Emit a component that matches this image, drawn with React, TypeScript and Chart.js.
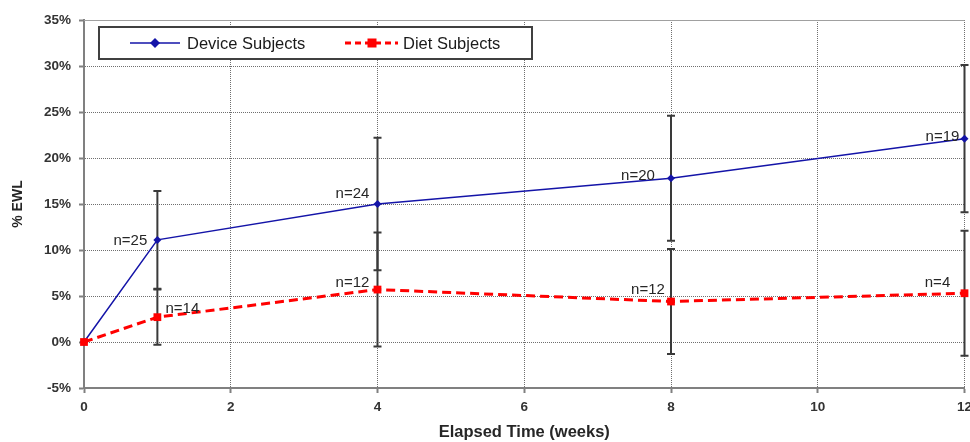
import React, { useEffect, useRef } from 'react';
import { Chart, registerables } from 'chart.js';

Chart.register(...registerables);

// ---- data ----
const weeks = [0, 1, 4, 8, 12];
const deviceEWL = [0, 11.1, 15.0, 17.8, 22.1];
const deviceErr = [0, 5.3, 7.2, 6.8, 8.0];
const dietEWL = [0, 2.7, 5.7, 4.4, 5.3];
const dietErr = [0, 3.0, 6.2, 5.7, 6.8];
const deviceN = ['', 'n=25', 'n=24', 'n=20', 'n=19'];
const dietN = ['', 'n=14', 'n=12', 'n=12', 'n=4'];
const seriesNames = ['Device Subjects', 'Diet Subjects'];
const xTitle = 'Elapsed Time (weeks)';
const yTitle = '% EWL';

// ---- styles ----
const FONT = "'Liberation Sans', Arial, sans-serif";
const DEVICE_COLOR = '#1414a8';
const DIET_COLOR = '#ff0000';
const ERR_COLOR = '#3a3a3a';
// label offsets in px from point centre (centre aligned)
const deviceLabelOffset = [[0, 0], [-27, 1], [-25, -10], [-33, -2], [-22, -2]];
const dietLabelOffset = [[0, 0], [25, -8], [-25, -7], [-23, -12], [-27, -10]];

const errorBarPlugin = {
  id: 'errorBars',
  beforeDatasetsDraw(chart: any) {
    const { ctx } = chart;
    const xs = chart.scales.x;
    const ys = chart.scales.y;
    ctx.save();
    ctx.strokeStyle = ERR_COLOR;
    ctx.lineWidth = 2;
    const sets: [number[], number[]][] = [
      [deviceEWL, deviceErr],
      [dietEWL, dietErr],
    ];
    sets.forEach(([vals, errs]) => {
      weeks.forEach((w, i) => {
        if (!errs[i]) return;
        const x = xs.getPixelForValue(w);
        const y1 = ys.getPixelForValue(vals[i] - errs[i]);
        const y2 = ys.getPixelForValue(vals[i] + errs[i]);
        ctx.beginPath();
        ctx.moveTo(x, y1);
        ctx.lineTo(x, y2);
        ctx.moveTo(x - 4, y1);
        ctx.lineTo(x + 4, y1);
        ctx.moveTo(x - 4, y2);
        ctx.lineTo(x + 4, y2);
        ctx.stroke();
      });
    });
    ctx.restore();
  },
  afterDatasetsDraw(chart: any) {
    const { ctx, chartArea } = chart;
    const xs = chart.scales.x;
    const ys = chart.scales.y;
    ctx.save();
    // top frame line
    ctx.strokeStyle = '#a0a0a0';
    ctx.lineWidth = 1;
    ctx.beginPath();
    ctx.moveTo(chartArea.left, chartArea.top + 0.5);
    ctx.lineTo(chartArea.right, chartArea.top + 0.5);
    ctx.stroke();

    // n= labels
    ctx.font = `15px ${FONT}`;
    ctx.fillStyle = '#262626';
    ctx.textAlign = 'center';
    ctx.textBaseline = 'middle';
    weeks.forEach((w, i) => {
      const x = xs.getPixelForValue(w);
      if (deviceN[i]) {
        const y = ys.getPixelForValue(deviceEWL[i]);
        ctx.fillText(deviceN[i], x + deviceLabelOffset[i][0], y + deviceLabelOffset[i][1]);
      }
      if (dietN[i]) {
        const y = ys.getPixelForValue(dietEWL[i]);
        ctx.fillText(dietN[i], x + dietLabelOffset[i][0], y + dietLabelOffset[i][1]);
      }
    });

    // legend box
    const bx = chartArea.left + 15;
    const by = chartArea.top + 7;
    const bw = 433;
    const bh = 32;
    ctx.fillStyle = '#ffffff';
    ctx.fillRect(bx, by, bw, bh);
    ctx.strokeStyle = '#404040';
    ctx.lineWidth = 2;
    ctx.strokeRect(bx, by, bw, bh);
    const cy = by + bh / 2;
    // device item
    ctx.strokeStyle = DEVICE_COLOR;
    ctx.lineWidth = 1.5;
    ctx.beginPath();
    ctx.moveTo(bx + 31, cy);
    ctx.lineTo(bx + 81, cy);
    ctx.stroke();
    ctx.fillStyle = DEVICE_COLOR;
    ctx.beginPath();
    ctx.moveTo(bx + 56, cy - 5);
    ctx.lineTo(bx + 61, cy);
    ctx.lineTo(bx + 56, cy + 5);
    ctx.lineTo(bx + 51, cy);
    ctx.closePath();
    ctx.fill();
    // diet item
    ctx.strokeStyle = DIET_COLOR;
    ctx.lineWidth = 3;
    ctx.setLineDash([6, 4]);
    ctx.beginPath();
    ctx.moveTo(bx + 246, cy);
    ctx.lineTo(bx + 299, cy);
    ctx.stroke();
    ctx.setLineDash([]);
    ctx.fillStyle = DIET_COLOR;
    ctx.fillRect(bx + 273 - 4.5, cy - 4.5, 9, 9);
    // texts
    ctx.font = `16.5px ${FONT}`;
    ctx.fillStyle = '#1a1a1a';
    ctx.textAlign = 'left';
    ctx.textBaseline = 'middle';
    ctx.fillText(seriesNames[0], bx + 88, cy + 1);
    ctx.fillText(seriesNames[1], bx + 304, cy + 1);
    ctx.restore();
  },
};

export default function App() {
  const ref = useRef<HTMLCanvasElement | null>(null);

  useEffect(() => {
    if (!ref.current) return;
    const chart = new Chart(ref.current, {
      type: 'line',
      data: {
        datasets: [
          {
            label: seriesNames[0],
            data: weeks.map((w, i) => ({ x: w, y: deviceEWL[i] })),
            borderColor: DEVICE_COLOR,
            backgroundColor: DEVICE_COLOR,
            borderWidth: 1.5,
            pointStyle: 'rectRot',
            pointRadius: 4,
            pointBorderWidth: 0,
            tension: 0,
            clip: false,
            order: 1,
          },
          {
            label: seriesNames[1],
            data: weeks.map((w, i) => ({ x: w, y: dietEWL[i] })),
            borderColor: DIET_COLOR,
            backgroundColor: DIET_COLOR,
            borderWidth: 3,
            borderDash: [9, 5],
            pointStyle: 'rect',
            pointRadius: 5.5,
            pointBorderWidth: 0,
            tension: 0,
            clip: false,
            order: 0,
          },
        ],
      },
      options: {
        responsive: false,
        animation: false,
        events: [],
        layout: { padding: { top: 20, right: 3, left: 0, bottom: 0 } },
        plugins: {
          legend: { display: false },
          tooltip: { enabled: false },
        },
        scales: {
          x: {
            type: 'linear',
            min: 0,
            max: 12,
            ticks: {
              stepSize: 2,
              padding: 6,
              color: '#333333',
              font: { family: FONT, size: 13.5, weight: 'bold' },
            },
            grid: {
              color: '#6f6f6f',
              lineWidth: 1,
              tickLength: 5,
              tickColor: '#808080',
              tickWidth: 2,
            },
            border: { color: '#808080', width: 2, dash: [1, 1] },
            title: {
              display: true,
              text: xTitle,
              color: '#262626',
              font: { family: FONT, size: 16.5, weight: 'bold' },
              padding: { top: 0, bottom: 0 },
            },
            afterFit: (s: any) => {
              s.height = 54;
              s.paddingLeft = 0;
              s.paddingRight = 0;
            },
          },
          y: {
            type: 'linear',
            min: -5,
            max: 35,
            ticks: {
              stepSize: 5,
              padding: 8,
              color: '#333333',
              font: { family: FONT, size: 13.5, weight: 'bold' },
              callback: (v: any) => `${v}%`,
            },
            grid: {
              color: '#6f6f6f',
              lineWidth: 1,
              tickLength: 5,
              tickColor: '#808080',
              tickWidth: 2,
            },
            border: { color: '#808080', width: 2, dash: [1, 1] },
            title: {
              display: true,
              text: yTitle,
              color: '#262626',
              font: { family: FONT, size: 14, weight: 'bold' },
              padding: { top: 10, bottom: 0 },
            },
            afterFit: (s: any) => {
              s.width = 84;
              s.paddingTop = 0;
              s.paddingBottom = 0;
            },
          },
        },
      },
      plugins: [errorBarPlugin],
    });
    return () => chart.destroy();
  }, []);

  return (
    <div style={{ position: 'absolute', left: 0, top: 0, width: 970, height: 442, background: '#fff' }}>
      <canvas ref={ref} width={970} height={442} />
    </div>
  );
}
